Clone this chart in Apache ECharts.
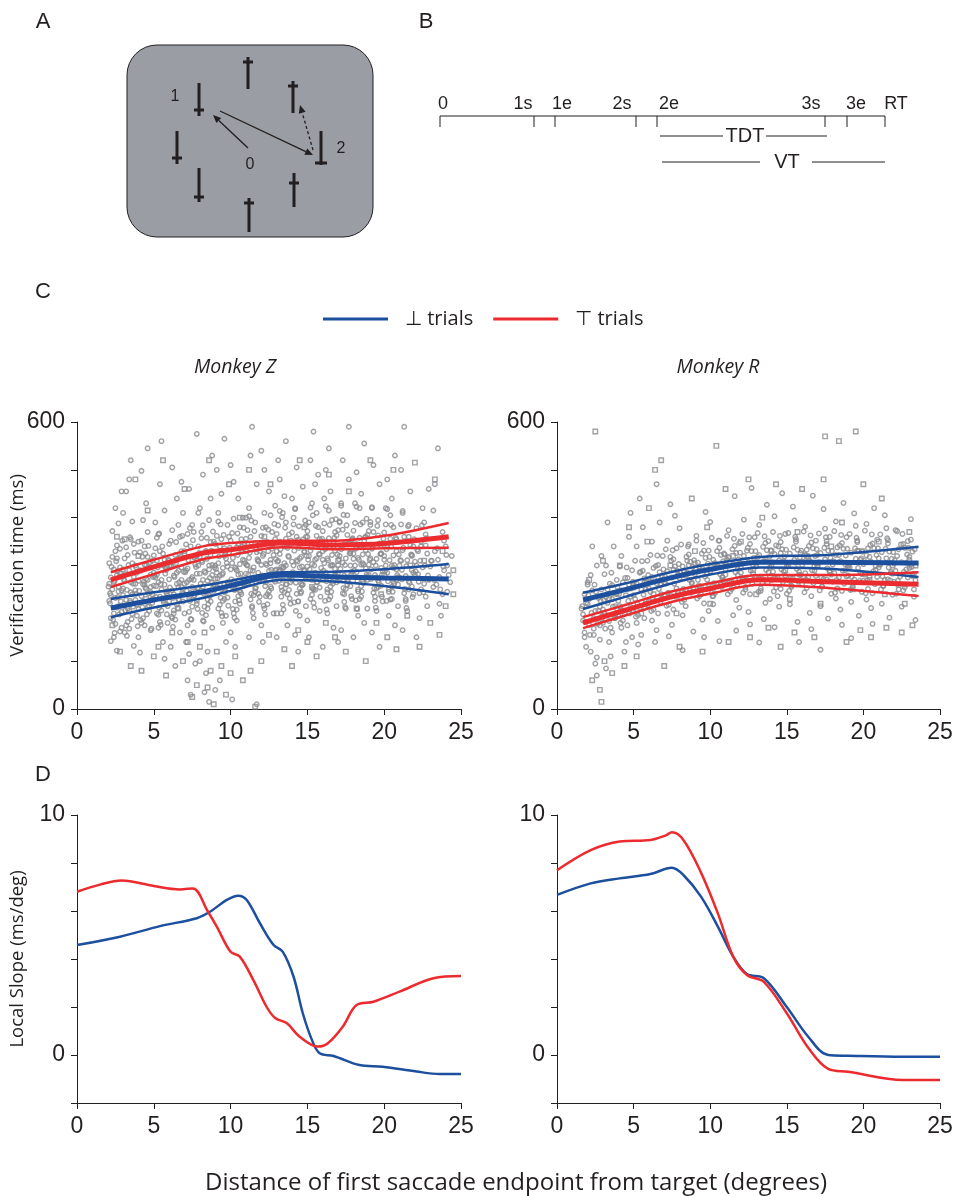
<!DOCTYPE html>
<html>
<head>
<meta charset="utf-8">
<script src="https://cdn.jsdelivr.net/npm/echarts@6/dist/echarts.min.js"></script>
<style>html,body{margin:0;padding:0;background:#fff}#main{width:957px;height:1196px}</style>
</head>
<body>
<div id="main"></div>
<script>
// ---- data ----
var BLUE = '#1d4f9f', RED = '#ec2b2f', INK = '#231f20', DOT = '#8a8b8e';

// panel C, Monkey Z scatter (circles / squares)
var zCircles = [
 [2.1,305],[2.3,250],[2.2,190],[2.5,420],[2.4,150],[2.6,280],[2.8,335],[2.7,215],[2.9,170],[2.3,372],[2.6,122],[2.1,262],[2.9,455],[2.5,232],[2.8,296],[2.4,200],[2.7,388],[2.2,142],[2.9,248],[2.6,315],
 [3.1,268],[3.3,210],[3.5,355],[3.2,175],[3.8,300],[3.6,240],[3.4,480],[3.9,195],[3.0,410],[3.7,132],[3.3,322],[3.5,265],[3.8,228],[3.1,160],[3.6,392],[3.9,285],[3.2,455],[3.4,205],[3.7,345],[3.0,238],[3.5,520],
 [4.1,290],[4.3,225],[4.6,370],[4.2,180],[4.8,255],[4.5,430],[4.9,310],[4.0,150],[4.7,205],[4.4,340],[4.6,270],[4.2,498],[4.8,165],[4.3,395],[4.9,240],[4.1,118],[4.5,300],[4.7,215],[4.0,350],[4.4,260],[4.6,545],
 [5.1,275],[5.4,330],[5.2,200],[5.7,415],[5.5,250],[5.9,180],[5.3,365],[5.8,295],[5.6,140],[5.0,230],[5.4,470],[5.7,260],[5.2,310],[5.9,215],[5.1,390],[5.6,325],[5.3,170],[5.8,245],[5.5,560],[5.0,285],[5.7,105],
 [6.1,300],[6.3,240],[6.6,385],[6.2,190],[6.8,270],[6.5,440],[6.9,225],[6.0,345],[6.7,160],[6.4,310],[6.6,255],[6.2,505],[6.8,330],[6.3,200],[6.9,410],[6.1,130],[6.5,285],[6.7,360],[6.0,225],[6.4,90],[6.8,475],
 [7.1,290],[7.3,230],[7.6,370],[7.2,175],[7.8,320],[7.5,255],[7.9,410],[7.0,200],[7.7,95],[7.4,340],[7.6,270],[7.2,60],[7.8,220],[7.3,460],[7.9,300],[7.1,140],[7.5,385],[7.7,245],[7.0,330],[7.4,30],[7.8,575],[7.6,160],[7.3,115],
 [8.1,310],[8.3,245],[8.6,395],[8.2,185],[8.8,280],[8.5,120],[8.9,350],[8.0,420],[8.7,225],[8.4,75],[8.6,300],[8.2,490],[8.8,170],[8.3,35],[8.9,260],[8.1,370],[8.5,210],[8.7,440],[8.0,100],[8.4,330],[8.6,15],[8.2,270],[8.8,530],
 [9.1,285],[9.3,340],[9.6,230],[9.2,410],[9.8,265],[9.5,180],[9.9,360],[9.0,300],[9.7,140],[9.4,450],[9.6,320],[9.2,210],[9.8,385],[9.3,60],[9.9,250],[9.1,500],[9.5,295],[9.7,195],[9.0,40],[9.4,355],[9.6,565],
 [10.1,305],[10.3,250],[10.6,380],[10.2,200],[10.8,330],[10.5,440],[10.9,270],[10.0,160],[10.7,355],[10.4,290],[10.6,220],[10.2,475],[10.8,400],[10.3,130],[10.9,310],[10.1,20],[10.5,345],[10.7,240],[10.0,510],[10.4,185],
 [11.1,300],[11.3,360],[11.6,245],[11.2,420],[11.8,285],[11.5,190],[11.9,330],[11.0,260],[11.7,470],[11.4,215],[11.6,390],[11.2,150],[11.8,310],[11.3,530],[11.9,235],[11.1,345],[11.5,275],[11.7,10],[11.0,400],[11.4,590],
 [12.1,320],[12.3,265],[12.6,405],[12.2,210],[12.8,345],[12.5,455],[12.9,290],[12.0,175],[12.7,370],[12.4,240],[12.6,305],[12.2,500],[12.8,200],[12.3,380],[12.9,425],[12.1,140],[12.5,280],[12.7,335],[12.0,540],
 [13.1,310],[13.3,255],[13.6,390],[13.2,350],[13.8,280],[13.5,445],[13.9,220],[13.0,330],[13.7,175],[13.4,410],[13.6,300],[13.2,480],[13.8,365],[13.3,200],[13.9,265],[13.1,520],[13.5,340],[13.7,240],[13.0,150],[13.4,295],[13.6,560],
 [14.1,300],[14.3,360],[14.6,245],[14.2,420],[14.8,330],[14.5,195],[14.9,385],[14.0,270],[14.7,465],[14.4,225],[14.6,350],[14.2,155],[14.8,290],[14.3,505],[14.9,215],[14.1,400],[14.5,315],[14.7,260],[14.0,440],[14.4,120],
 [15.1,320],[15.3,270],[15.6,410],[15.2,230],[15.8,355],[15.5,470],[15.9,295],[15.0,185],[15.7,380],[15.4,250],[15.6,315],[15.2,520],[15.8,205],[15.3,430],[15.9,340],[15.1,150],[15.5,285],[15.7,490],[15.0,360],[15.4,580],
 [16.1,305],[16.3,250],[16.6,395],[16.2,350],[16.8,280],[16.5,455],[16.9,215],[16.0,330],[16.7,170],[16.4,415],[16.6,300],[16.2,500],[16.8,370],[16.3,200],[16.9,265],[16.1,440],[16.5,235],[16.7,340],[16.0,130],[16.4,545],
 [17.1,320],[17.3,375],[17.6,260],[17.2,430],[17.8,300],[17.5,210],[17.9,355],[17.0,285],[17.7,480],[17.4,240],[17.6,405],[17.2,165],[17.8,330],[17.3,520],[17.9,230],[17.1,390],[17.5,275],[17.7,590],[17.0,140],[17.4,345],
 [18.1,300],[18.3,250],[18.6,390],[18.2,345],[18.8,275],[18.5,450],[18.9,210],[18.0,325],[18.7,180],[18.4,420],[18.6,305],[18.2,495],[18.8,360],[18.3,195],[18.9,270],[18.1,430],[18.5,235],[18.7,555],[18.0,150],
 [19.1,315],[19.3,370],[19.6,255],[19.2,420],[19.8,295],[19.5,205],[19.9,345],[19.0,280],[19.7,470],[19.4,235],[19.6,395],[19.2,160],[19.8,325],[19.3,510],[19.9,225],[19.1,385],[19.5,275],[19.7,130],
 [20.1,300],[20.3,250],[20.6,380],[20.2,340],[20.8,270],[20.5,440],[20.9,215],[20.0,320],[20.7,175],[20.4,405],[20.6,295],[20.2,480],[20.8,355],[20.3,195],[20.9,260],[20.1,420],[20.5,230],[20.7,530],
 [21.1,310],[21.3,360],[21.6,250],[21.2,410],[21.8,290],[21.5,205],[21.9,340],[21.0,275],[21.7,455],[21.4,230],[21.6,385],[21.2,165],[21.8,320],[21.3,590],[21.9,240],[21.1,500],
 [22.1,300],[22.4,250],[22.7,365],[22.2,330],[22.9,270],[22.5,420],[22.8,215],[22.3,190],[22.6,390],[22.0,280],[22.9,460],[22.4,340],[22.7,235],[22.1,150],
 [23.1,310],[23.4,260],[23.8,370],[23.2,415],[23.9,290],[23.6,220],[24.0,340],[23.3,470],[24.2,280],[23.7,195],[24.4,320],[23.5,545],[24.1,245]
];
// the dense core of the Monkey Z cloud
var zCore = [
 [2.2,238],[2.4,265],[2.6,212],[2.8,284],[2.3,318],[2.5,178],[2.7,246],[2.9,203],[2.1,226],[2.6,342],[2.4,292],[2.8,162],[2.2,275],[2.7,255],[2.5,330],
 [3.0,252],[3.2,228],[3.4,290],[3.6,199],[3.8,262],[3.1,315],[3.3,182],[3.5,244],[3.7,276],[3.9,218],[3.2,338],[3.6,305],[3.4,168],[3.8,248],[3.0,292],[3.5,223],
 [4.0,268],[4.2,236],[4.4,302],[4.6,214],[4.8,281],[4.1,328],[4.3,190],[4.5,251],[4.7,296],[4.9,222],[4.2,352],[4.6,318],[4.4,175],[4.8,244],[4.0,209],[4.5,272],[4.3,261],
 [5.0,258],[5.2,281],[5.4,235],[5.6,300],[5.8,219],[5.1,336],[5.3,197],[5.5,270],[5.7,312],[5.9,247],[5.2,358],[5.6,228],[5.4,182],[5.8,290],[5.0,321],[5.5,206],[5.3,265],
 [6.0,271],[6.2,248],[6.4,322],[6.6,229],[6.8,296],[6.1,352],[6.3,206],[6.5,262],[6.7,316],[6.9,241],[6.2,374],[6.6,289],[6.4,187],[6.8,255],[6.0,310],[6.5,218],[6.3,279],
 [7.0,262],[7.2,294],[7.4,243],[7.6,318],[7.8,226],[7.1,344],[7.3,203],[7.5,276],[7.7,302],[7.9,254],[7.2,366],[7.6,236],[7.4,188],[7.8,283],[7.0,325],[7.5,214],[7.3,270],[7.9,340],
 [8.0,283],[8.2,256],[8.4,330],[8.6,238],[8.8,301],[8.1,357],[8.3,214],[8.5,268],[8.7,322],[8.9,247],[8.2,384],[8.6,292],[8.4,196],[8.8,264],[8.0,318],[8.5,229],[8.3,288],[8.7,349],
 [9.0,272],[9.2,305],[9.4,251],[9.6,336],[9.8,233],[9.1,362],[9.3,218],[9.5,284],[9.7,315],[9.9,262],[9.2,392],[9.6,244],[9.4,201],[9.8,298],[9.0,345],[9.5,226],[9.3,279],[9.9,327],
 [10.0,292],[10.2,266],[10.4,338],[10.6,247],[10.8,312],[10.1,368],[10.3,225],[10.5,281],[10.7,329],[10.9,258],[10.2,398],[10.6,303],[10.4,208],[10.8,272],[10.0,352],[10.5,236],[10.3,296],[10.9,344],
 [11.0,283],[11.2,316],[11.4,262],[11.6,347],[11.8,241],[11.1,374],[11.3,229],[11.5,296],[11.7,328],[11.9,271],[11.2,403],[11.6,252],[11.4,212],[11.8,309],[11.0,356],[11.5,238],[11.3,290],[11.9,337],
 [12.0,301],[12.2,274],[12.4,349],[12.6,256],[12.8,322],[12.1,379],[12.3,236],[12.5,289],[12.7,341],[12.9,266],[12.2,410],[12.6,312],[12.4,219],[12.8,282],[12.0,362],[12.5,246],[12.3,304],[12.9,355],
 [13.0,292],[13.2,324],[13.4,270],[13.6,356],[13.8,249],[13.1,384],[13.3,235],[13.5,305],[13.7,337],[13.9,279],[13.2,414],[13.6,260],[13.4,218],[13.8,318],[13.0,366],[13.5,244],[13.3,297],[13.9,345],
 [14.0,308],[14.2,281],[14.4,354],[14.6,262],[14.8,328],[14.1,386],[14.3,241],[14.5,296],[14.7,347],[14.9,272],[14.2,418],[14.6,318],[14.4,225],[14.8,289],[14.0,369],[14.5,252],[14.3,311],[14.9,360],
 [15.0,298],[15.2,331],[15.4,276],[15.6,362],[15.8,254],[15.1,390],[15.3,239],[15.5,312],[15.7,343],[15.9,284],[15.2,421],[15.6,265],[15.4,222],[15.8,323],[15.0,372],[15.5,249],[15.3,303],[15.9,351],
 [16.0,312],[16.2,285],[16.4,357],[16.6,266],[16.8,331],[16.1,388],[16.3,244],[16.5,300],[16.7,350],[16.9,276],[16.2,424],[16.6,322],[16.4,229],[16.8,293],[16.0,372],[16.5,256],[16.3,315],[16.9,363],
 [17.0,301],[17.2,334],[17.4,279],[17.6,364],[17.8,257],[17.1,392],[17.3,242],[17.5,315],[17.7,345],[17.9,287],[17.2,425],[17.6,268],[17.4,224],[17.8,326],[17.0,374],[17.5,251],[17.3,306],[17.9,353],
 [18.0,314],[18.2,286],[18.4,358],[18.6,267],[18.8,332],[18.1,389],[18.3,246],[18.5,302],[18.7,351],[18.9,277],[18.2,423],[18.6,323],[18.4,230],[18.8,294],[18.0,373],[18.5,257],[18.3,316],[18.9,364],
 [19.0,302],[19.2,335],[19.4,280],[19.6,363],[19.8,258],[19.1,391],[19.3,243],[19.5,314],[19.7,346],[19.9,288],[19.2,422],[19.6,269],[19.4,226],[19.8,325],[19.0,372],[19.5,252],[19.3,307],
 [20.0,312],[20.2,285],[20.4,356],[20.6,266],[20.8,330],[20.1,386],[20.3,245],[20.5,300],[20.7,349],[20.9,276],[20.2,418],[20.6,321],[20.4,229],[20.8,292],[20.0,369],[20.5,256],
 [21.0,300],[21.2,332],[21.4,278],[21.6,360],[21.8,256],[21.1,386],[21.3,242],[21.5,311],[21.7,343],[21.9,285],[21.2,414],[21.6,267],[21.4,226],[21.8,322],
 [22.0,308],[22.2,282],[22.4,350],[22.6,262],[22.8,325],[22.1,378],[22.3,242],[22.5,296],[22.7,342],[22.9,272],
 [23.0,298],[23.3,330],[23.6,276],[23.9,352],[23.2,255],[23.5,312],[23.8,240],[24.1,300]
];
var zCore2 = [
 [2.05,256],[2.15,221],[2.25,297],[2.35,187],[2.45,268],[2.55,309],[2.65,234],[2.75,198],[2.85,277],[2.95,352],[2.15,242],[2.45,159],[2.65,288],[2.85,225],
 [3.05,271],[3.15,206],[3.25,249],[3.35,301],[3.45,226],[3.55,188],[3.65,262],[3.75,327],[3.85,241],[3.95,173],[3.15,282],[3.45,359],[3.65,214],[3.85,296],[3.25,153],
 [4.05,247],[4.15,289],[4.25,213],[4.35,266],[4.45,325],[4.55,198],[4.65,242],[4.75,307],[4.85,229],[4.95,276],[4.15,186],[4.45,254],[4.65,341],[4.85,168],[4.25,318],
 [5.05,279],[5.15,234],[5.25,296],[5.35,212],[5.45,261],[5.55,340],[5.65,223],[5.75,283],[5.85,198],[5.95,312],[5.15,257],[5.45,176],[5.65,302],[5.85,241],[5.35,367],
 [6.05,254],[6.15,298],[6.25,232],[6.35,276],[6.45,349],[6.55,211],[6.65,265],[6.75,319],[6.85,244],[6.95,287],[6.15,193],[6.45,305],[6.65,228],[6.85,362],[6.25,172],
 [7.05,286],[7.15,247],[7.25,311],[7.35,226],[7.45,272],[7.55,353],[7.65,238],[7.75,297],[7.85,209],[7.95,326],[7.15,265],[7.45,187],[7.65,317],[7.85,252],[7.35,378],
 [8.05,262],[8.15,307],[8.25,241],[8.35,285],[8.45,358],[8.55,219],[8.65,274],[8.75,331],[8.85,253],[8.95,296],[8.15,201],[8.45,314],[8.65,236],[8.85,371],[8.25,183],
 [9.05,293],[9.15,255],[9.25,319],[9.35,233],[9.45,281],[9.55,364],[9.65,246],[9.75,305],[9.85,216],[9.95,337],[9.15,273],[9.45,194],[9.65,326],[9.85,261],[9.35,386],
 [10.05,271],[10.15,316],[10.25,249],[10.35,293],[10.45,367],[10.55,227],[10.65,283],[10.75,340],[10.85,262],[10.95,305],[10.15,209],[10.45,322],[10.65,244],[10.85,379],[10.25,191],
 [11.05,301],[11.15,262],[11.25,327],[11.35,241],[11.45,289],[11.55,372],[11.65,254],[11.75,313],[11.85,224],[11.95,345],[11.15,281],[11.45,201],[11.65,334],[11.85,269],[11.35,394],
 [12.05,279],[12.15,324],[12.25,257],[12.35,301],[12.45,375],[12.55,235],[12.65,291],[12.75,348],[12.85,270],[12.95,313],[12.15,216],[12.45,330],[12.65,252],[12.85,387],[12.25,198],
 [13.05,308],[13.15,268],[13.25,334],[13.35,248],[13.45,296],[13.55,379],[13.65,261],[13.75,320],[13.85,231],[13.95,352],[13.15,288],[13.45,208],[13.65,341],[13.85,276],[13.35,401],
 [14.05,286],[14.15,331],[14.25,264],[14.35,308],[14.45,382],[14.55,242],[14.65,298],[14.75,355],[14.85,277],[14.95,320],[14.15,223],[14.45,337],[14.65,259],[14.85,394],[14.25,205],
 [15.05,312],[15.15,272],[15.25,338],[15.35,252],[15.45,300],[15.55,383],[15.65,265],[15.75,324],[15.85,235],[15.95,356],[15.15,292],[15.45,212],[15.65,345],[15.85,280],[15.35,405],
 [16.05,289],[16.15,334],[16.25,267],[16.35,311],[16.45,385],[16.55,245],[16.65,301],[16.75,358],[16.85,280],[16.95,323],[16.15,226],[16.45,340],[16.65,262],[16.85,397],[16.25,208],
 [17.05,313],[17.15,273],[17.25,339],[17.35,253],[17.45,301],[17.55,384],[17.65,266],[17.75,325],[17.85,236],[17.95,357],[17.15,293],[17.45,213],[17.65,346],[17.85,281],[17.35,406],
 [18.05,290],[18.15,335],[18.25,268],[18.35,312],[18.45,386],[18.55,246],[18.65,302],[18.75,359],[18.85,281],[18.95,324],[18.15,227],[18.45,341],[18.65,263],[18.85,398],[18.25,209],
 [19.05,312],[19.15,272],[19.25,338],[19.35,252],[19.45,300],[19.55,383],[19.65,265],[19.75,324],[19.85,235],[19.95,356],[19.15,292],[19.45,212],[19.65,345],[19.85,280],
 [20.05,289],[20.15,334],[20.25,267],[20.35,311],[20.45,385],[20.55,245],[20.65,301],[20.75,358],[20.85,280],[20.95,323],[20.15,226],[20.45,340],[20.65,262],
 [21.05,311],[21.15,271],[21.25,337],[21.35,251],[21.45,299],[21.55,382],[21.65,264],[21.75,323],[21.85,234],[21.95,355],[21.15,291],[21.45,211],
 [22.05,288],[22.15,333],[22.25,266],[22.35,310],[22.45,384],[22.55,244],[22.65,300],[22.75,357],[22.85,279],
 [23.05,310],[23.25,270],[23.45,336],[23.65,250],[23.85,298],[24.05,322],[24.3,265]
];
var zSquares = [
 [2.3,175],[2.8,120],[3.1,355],[3.5,90],[4.2,80],[4.6,415],[5.0,110],[5.3,130],[5.8,70],[6.2,160],[6.6,210],[6.9,100],[7.2,140],[7.5,25],[7.8,50],
 [8.0,130],[8.3,160],[8.5,45],[8.7,80],[8.9,10],[9.1,120],[9.4,90],[9.7,30],[10.0,75],[10.3,110],[10.8,60],[11.3,80],[11.6,5],[12.0,100],[12.5,155],
 [13.0,200],[13.5,125],[14.0,90],[14.4,165],[15.0,140],[15.6,110],[16.2,180],[16.8,150],[17.5,120],[18.2,210],[18.8,100],[19.5,180],[20.2,150],[20.8,125],
 [21.5,195],[22.3,130],[23.0,180],[23.6,155],[24.0,215],[24.5,240],[3.8,480],[5.6,520],[7.0,460],[8.6,520],[9.9,470],[11.2,500],[12.6,470],[14.5,520],
 [16.4,490],[17.7,455],[19.1,520],[20.6,500],[22.0,515],[23.3,480],[4.5,230],[6.0,300],[9.3,260],[11.0,330],[13.2,290],[15.3,255],[17.0,310],[18.5,340],
 [20.0,280],[21.7,300],[23.8,330],[24.5,290],[2.6,360],[4.0,320],[10.6,400],[12.2,360],[14.8,380],[16.0,270],[19.8,240],[22.6,310]
];

// panel C, Monkey R scatter
var rCircles = [
 [1.6,210],[1.8,160],[2.0,260],[2.2,120],[2.4,190],[2.6,300],[2.8,145],[2.1,230],[2.5,95],[2.9,250],[1.7,185],[2.3,340],[2.7,205],[1.9,130],[2.6,70],[2.2,280],[2.8,175],[2.0,220],[2.4,155],[2.9,320],[1.8,240],
 [3.1,200],[3.3,250],[3.6,160],[3.2,300],[3.8,215],[3.5,110],[3.9,270],[3.0,180],[3.7,340],[3.4,140],[3.6,230],[3.2,85],[3.8,190],[3.3,390],[3.9,240],
 [4.1,215],[4.3,265],[4.6,175],[4.2,320],[4.8,235],[4.5,140],[4.9,290],[4.0,195],[4.7,360],[4.4,120],[4.6,250],[4.2,170],[4.8,410],[4.3,205],[4.9,150],
 [5.1,230],[5.4,285],[5.7,190],[5.2,340],[5.8,250],[5.5,155],[5.9,310],[5.0,205],[5.6,380],[5.3,135],[5.7,265],[5.2,180],[5.8,220],[5.4,440],
 [6.1,245],[6.3,295],[6.6,200],[6.2,350],[6.8,260],[6.5,165],[6.9,320],[6.0,225],[6.7,390],[6.4,140],[6.6,275],[6.2,185],[6.8,230],[6.5,470],
 [7.1,262],[7.4,318],[7.6,208],[7.2,352],[7.9,281],[7.5,176],[7.8,336],[7.0,238],[7.7,404],[7.3,152],[7.6,292],[7.2,199],[7.9,246],[7.4,428],
 [8.1,231],[8.3,287],[8.6,344],[8.2,196],[8.8,265],[8.5,310],[8.9,162],[8.0,378],[8.7,248],[8.4,215],[8.6,300],[8.2,123],
 [9.0,305],[9.3,254],[9.6,221],[9.1,362],[9.8,283],[9.5,187],[9.9,331],[9.2,270],[9.7,412],[9.4,240],[9.6,150],[9.3,298],[9.9,205],
 [10.1,243],[10.4,297],[10.6,352],[10.2,219],[10.8,276],[10.5,184],[10.9,325],[10.0,391],[10.7,260],[10.3,305],[10.6,142],[10.2,236],
 [11.1,312],[11.3,266],[11.7,228],[11.2,374],[11.8,293],[11.5,196],[11.9,347],[11.0,281],[11.6,445],[11.4,251],[11.7,164],[11.2,318],[11.9,212],
 [12.1,274],[12.4,331],[12.6,240],[12.2,396],[12.8,301],[12.5,203],[12.9,359],[12.0,285],[12.7,462],[12.3,255],[12.6,177],
 [13.1,318],[13.4,263],[13.6,222],[13.2,385],[13.9,296],[13.5,188],[13.8,351],[13.0,276],[13.7,427],[13.3,247],[13.6,309],[13.2,139],[13.9,230],
 [14.1,287],[14.3,342],[14.6,251],[14.2,403],[14.8,309],[14.5,214],[14.9,366],[14.0,270],[14.7,451],[14.4,236],[14.6,326],[14.2,171],
 [15.1,300],[15.3,258],[15.6,355],[15.2,219],[15.8,281],[15.5,394],[15.9,326],[15.0,241],[15.7,182],[15.4,423],[15.6,306],[15.2,268],[15.8,140],
 [16.1,276],[16.3,333],[16.6,236],[16.2,381],[16.8,298],[16.5,201],[16.9,352],[16.0,262],[16.7,446],[16.4,315],[16.6,167],[16.2,284],
 [17.1,307],[17.3,256],[17.6,345],[17.2,215],[17.8,289],[17.5,377],[17.9,241],[17.0,322],[17.7,189],[17.4,418],[17.6,271],[17.2,124],[17.8,360],
 [18.1,284],[18.3,338],[18.6,247],[18.2,392],[18.8,303],[18.5,208],[18.9,359],[18.0,266],[18.7,431],[18.4,322],[18.6,176],[18.2,231],
 [19.1,296],[19.3,262],[19.6,349],[19.2,224],[19.8,312],[19.5,383],[19.9,245],[19.0,279],[19.7,195],[19.4,409],[19.6,331],[19.2,148],
 [20.1,281],[20.3,336],[20.6,242],[20.2,387],[20.8,299],[20.5,211],[20.9,354],[20.0,268],[20.7,420],[20.4,318],[20.6,178],[20.2,229],
 [21.1,302],[21.3,257],[21.6,346],[21.2,220],[21.8,287],[21.5,378],[21.9,239],[21.0,315],[21.7,191],[21.4,405],[21.6,271],
 [22.1,289],[22.3,334],[22.6,248],[22.2,372],[22.8,306],[22.5,214],[22.9,351],[22.0,266],[23.1,397],[23.3,235],[23.0,318],[23.4,186],[23.2,280],[22.7,254]
];
// the dense core of the Monkey R cloud
var rCore = [
 [1.7,198],[1.9,222],[2.1,176],[2.3,248],[2.5,205],[2.7,232],[2.9,188],[2.0,265],[2.4,168],[2.8,214],[1.8,150],[2.6,108],
 [3.0,208],[3.2,234],[3.4,184],[3.6,259],[3.8,197],[3.1,282],[3.3,222],[3.5,170],[3.7,242],[3.9,210],
 [4.0,226],[4.2,248],[4.4,199],[4.6,274],[4.8,213],[4.1,298],[4.3,185],[4.5,238],[4.7,260],[4.9,204],
 [5.0,238],[5.2,262],[5.4,212],[5.6,289],[5.8,226],[5.1,310],[5.3,196],[5.5,250],[5.7,273],[5.9,217],
 [6.0,252],[6.2,276],[6.4,226],[6.6,301],[6.8,240],[6.1,322],[6.3,208],[6.5,263],[6.7,286],[6.9,231],
 [7.0,264],[7.2,288],[7.4,238],[7.6,313],[7.8,252],[7.1,334],[7.3,218],[7.5,275],[7.7,298],[7.9,243],
 [8.0,274],[8.2,298],[8.4,248],[8.6,323],[8.8,262],[8.1,344],[8.3,228],[8.5,285],[8.7,308],[8.9,253],
 [9.0,282],[9.2,306],[9.4,256],[9.6,331],[9.8,270],[9.1,352],[9.3,236],[9.5,293],[9.7,316],[9.9,261],
 [10.0,288],[10.2,312],[10.4,262],[10.6,337],[10.8,276],[10.1,358],[10.3,242],[10.5,299],[10.7,322],[10.9,267],
 [11.0,292],[11.2,316],[11.4,266],[11.6,341],[11.8,280],[11.1,362],[11.3,246],[11.5,303],[11.7,326],[11.9,271],
 [12.0,296],[12.2,320],[12.4,270],[12.6,345],[12.8,284],[12.1,366],[12.3,250],[12.5,307],[12.7,330],[12.9,275],
 [13.0,298],[13.2,322],[13.4,272],[13.6,347],[13.8,286],[13.1,368],[13.3,252],[13.5,309],[13.7,332],[13.9,277],
 [14.0,300],[14.2,324],[14.4,274],[14.6,349],[14.8,288],[14.1,370],[14.3,254],[14.5,311],[14.7,334],[14.9,279],
 [15.0,299],[15.2,325],[15.4,273],[15.6,350],[15.8,287],[15.1,368],[15.3,255],[15.5,312],[15.7,333],[15.9,280],
 [16.0,301],[16.2,323],[16.4,276],[16.6,348],[16.8,289],[16.1,371],[16.3,253],[16.5,310],[16.7,336],[16.9,278],
 [17.0,298],[17.2,326],[17.4,272],[17.6,351],[17.8,286],[17.1,367],[17.3,256],[17.5,313],[17.7,331],[17.9,281],
 [18.0,302],[18.2,322],[18.4,275],[18.6,347],[18.8,290],[18.1,372],[18.3,252],[18.5,309],[18.7,335],[18.9,277],
 [19.0,297],[19.2,327],[19.4,271],[19.6,352],[19.8,285],[19.1,366],[19.3,257],[19.5,314],[19.7,330],[19.9,282],
 [20.0,303],[20.2,321],[20.4,276],[20.6,346],[20.8,291],[20.1,373],[20.3,251],[20.5,308],[20.7,336],[20.9,276],
 [21.0,296],[21.2,328],[21.4,270],[21.6,353],[21.8,284],[21.1,365],[21.3,258],[21.5,315],[21.7,329],[21.9,283],
 [22.0,304],[22.2,320],[22.4,277],[22.6,345],[22.8,292],[22.1,374],[22.3,250],[22.5,307],[22.7,337],[22.9,275],
 [23.0,295],[23.2,329],[23.4,269],[23.1,354],[23.3,283],[23.0,312]
];
var rCore2 = [
 [1.65,215],[1.85,182],[2.05,238],[2.25,201],[2.45,260],[2.65,178],[2.85,226],[2.15,155],[2.55,245],[2.95,195],
 [3.05,228],[3.25,196],[3.45,262],[3.65,214],[3.85,241],[3.15,168],[3.55,285],[3.75,190],[3.95,255],
 [4.05,240],[4.25,207],[4.45,274],[4.65,226],[4.85,252],[4.15,180],[4.55,296],[4.75,200],[4.95,266],
 [5.05,254],[5.25,220],[5.45,287],[5.65,239],[5.85,266],[5.15,193],[5.55,309],[5.75,212],[5.95,280],
 [6.05,266],[6.25,232],[6.45,299],[6.65,251],[6.85,278],[6.15,205],[6.55,321],[6.75,224],[6.95,292],
 [7.05,277],[7.25,243],[7.45,310],[7.65,262],[7.85,289],[7.15,216],[7.55,332],[7.75,235],[7.95,303],
 [8.05,285],[8.25,251],[8.45,318],[8.65,270],[8.85,297],[8.15,224],[8.55,340],[8.75,243],[8.95,311],
 [9.05,292],[9.25,258],[9.45,325],[9.65,277],[9.85,304],[9.15,231],[9.55,347],[9.75,250],[9.95,318],
 [10.05,297],[10.25,263],[10.45,330],[10.65,282],[10.85,309],[10.15,236],[10.55,352],[10.75,255],[10.95,323],
 [11.05,301],[11.25,267],[11.45,334],[11.65,286],[11.85,313],[11.15,240],[11.55,356],[11.75,259],[11.95,327],
 [12.05,304],[12.25,270],[12.45,337],[12.65,289],[12.85,316],[12.15,243],[12.55,359],[12.75,262],[12.95,330],
 [13.05,306],[13.25,272],[13.45,339],[13.65,291],[13.85,318],[13.15,245],[13.55,361],[13.75,264],[13.95,332],
 [14.05,307],[14.25,273],[14.45,340],[14.65,292],[14.85,319],[14.15,246],[14.55,362],[14.75,265],[14.95,333],
 [15.05,305],[15.25,274],[15.45,338],[15.65,293],[15.85,317],[15.15,247],[15.55,360],[15.75,266],[15.95,331],
 [16.05,308],[16.25,271],[16.45,341],[16.65,290],[16.85,320],[16.15,244],[16.55,363],[16.75,263],[16.95,334],
 [17.05,304],[17.25,275],[17.45,337],[17.65,294],[17.85,316],[17.15,248],[17.55,359],[17.75,267],[17.95,330],
 [18.05,309],[18.25,270],[18.45,342],[18.65,289],[18.85,321],[18.15,243],[18.55,364],[18.75,262],[18.95,335],
 [19.05,303],[19.25,276],[19.45,336],[19.65,295],[19.85,315],[19.15,249],[19.55,358],[19.75,268],[19.95,329],
 [20.05,310],[20.25,269],[20.45,343],[20.65,288],[20.85,322],[20.15,242],[20.55,365],[20.75,261],[20.95,336],
 [21.05,302],[21.25,277],[21.45,335],[21.65,296],[21.85,314],[21.15,250],[21.55,357],[21.75,269],[21.95,328],
 [22.05,311],[22.25,268],[22.45,344],[22.65,287],[22.85,323],[22.15,241],[22.55,366],[22.75,260],[22.95,337],
 [23.05,301],[23.2,278],[23.35,334],[23.15,297],[23.3,250]
];
var rSquares = [
 [2.5,580],[2.8,40],[2.9,15],[2.3,60],[3.1,100],[3.6,75],[4.4,90],[5.2,110],[6.4,500],[6.8,520],[7.0,90],[8.0,130],[9.5,120],[10.4,550],[11.2,140],
 [12.6,150],[13.8,170],[14.6,130],[15.5,160],[16.8,150],[17.5,570],[18.4,560],[19.5,580],[18.9,140],[19.8,165],[20.5,150],[21.5,170],[22.5,160],[23.2,175],
 [2.1,270],[3.4,230],[4.1,300],[5.0,260],[5.9,350],[6.3,240],[7.4,300],[8.4,280],[9.0,330],[9.8,380],[10.8,270],[11.5,320],[12.0,350],[12.8,290],
 [13.4,400],[14.0,330],[14.9,290],[15.7,370],[16.3,320],[17.0,300],[17.9,340],[18.6,390],[19.0,300],[19.9,330],[20.4,270],[21.0,350],[21.9,300],
 [22.3,260],[23.0,370],[23.4,300],[4.7,380],[6.0,420],[8.8,440],[11.0,460],[12.5,480],[14.3,470],[16.0,460],[17.4,480],[20.0,470],[21.2,440],
 [3.0,310],[5.5,200],[7.8,200],[10.0,220],[13.0,240],[15.2,230],[17.2,220],[19.3,250],[21.4,240],[22.7,220]
];

// panel C fitted curves (centre and band edges)
var zFitX = [2.2, 5, 8.2, 10, 13.4, 16.9, 20, 24.2];
var zRedMid = [270, 297, 326, 333, 347, 343, 346, 360];
var zRedHi  = [286, 312, 340, 347, 352, 352, 362, 389];
var zRedLo  = [255, 282, 313, 322, 338, 334, 336, 337];
var zBlueMid = [211, 228, 245, 258, 280, 276, 274, 272];
var zBlueHi  = [230, 244, 258, 268, 286, 287, 292, 303];
var zBlueLo  = [192, 212, 232, 247, 270, 266, 257, 240];

var rFitX = [1.7, 4.5, 7.4, 10, 13.3, 17.7, 23.6];
var rBlueMid = [228, 250, 274, 292, 307, 307, 305];
var rBlueHi  = [243, 263, 286, 303, 318, 322, 339];
var rBlueLo  = [209, 235, 262, 281, 296, 293, 276];
var rRedMid = [180, 207, 234, 252, 270, 266, 261];
var rRedHi  = [192, 218, 245, 263, 280, 280, 286];
var rRedLo  = [169, 196, 223, 241, 260, 253, 236];

// panel D local slopes
var dzRedX = [0, 1.5, 2.9, 5, 6.7, 7.55, 8.5, 9.1, 10, 10.6, 11.5, 12.35, 12.9, 13.65, 14.5, 15.7, 16.35, 17.3, 18.2, 19.3, 21, 23.2, 25];
var dzRed  = [6.8, 7.1, 7.27, 7.04, 6.9, 6.94, 6.0, 5.35, 4.3, 4.1, 3.1, 2.0, 1.54, 1.33, 0.76, 0.35, 0.5, 1.18, 2.08, 2.22, 2.64, 3.2, 3.29];
var dzBlueX = [0, 2.8, 5.4, 7.8, 8.66, 9.75, 10.5, 11.05, 11.9, 12.8, 13.4, 14.1, 14.7, 15.3, 15.8, 16.7, 18.4, 19.9, 22.1, 23.6, 25];
var dzBlue  = [4.58, 4.93, 5.37, 5.7, 5.97, 6.46, 6.64, 6.46, 5.5, 4.58, 4.3, 3.26, 1.74, 0.62, 0.07, -0.04, -0.42, -0.49, -0.69, -0.79, -0.79];
var drRedX = [0, 2.2, 4.1, 6.1, 7.1, 7.5, 8.25, 9.4, 10.5, 11.5, 12.4, 13.5, 15, 16.4, 17.7, 19, 22.6, 25];
var drRed  = [7.7, 8.54, 8.9, 8.96, 9.15, 9.28, 8.96, 7.6, 5.9, 4.1, 3.33, 3.05, 1.74, 0.3, -0.58, -0.7, -1.04, -1.04];
var drBlueX = [0, 2.2, 4.1, 6.1, 7.5, 8.25, 9.4, 10.5, 11.5, 12.4, 13.5, 15, 16.4, 17.7, 19, 22.6, 25];
var drBlue  = [6.67, 7.15, 7.36, 7.54, 7.8, 7.5, 6.6, 5.35, 4.1, 3.37, 3.2, 2.0, 0.76, 0, -0.03, -0.07, -0.07];

var timeTicks = ['0', '1s', '1e', '2s', '2e', '3s', '3e', 'RT'];

// ---- helpers ----
function pairs(xs, ys) { return xs.map(function (x, i) { return [x, ys[i]]; }); }

var myChart = echarts.init(document.getElementById('main'));

var SANS = 'Open Sans';
var HELV = 'Liberation Sans';

function xAx(g) {
    return {
        gridIndex: g, type: 'value', min: 0, max: 25, interval: 5,
        axisLine: { show: true, onZero: false, lineStyle: { color: INK, width: 1 } },
        axisTick: { show: true, length: 6, lineStyle: { color: INK } },
        splitLine: { show: false },
        axisLabel: { color: INK, fontSize: 23, fontFamily: HELV, margin: 12 }
    };
}
function yAx(g, mn, mx, step, name) {
    return {
        gridIndex: g, type: 'value', min: mn, max: mx, interval: step,
        name: name, nameLocation: 'middle', nameGap: 50, nameRotate: 90, nameMoveOverlap: false,
        nameTextStyle: { color: INK, fontSize: 18.5, fontFamily: SANS },
        axisLine: { show: true, onZero: false, lineStyle: { color: INK, width: 1 } },
        axisTick: { show: true, length: 6, lineStyle: { color: INK } },
        splitLine: { show: false },
        axisLabel: {
            color: INK, fontSize: 23, fontFamily: HELV, margin: 12,
            formatter: function (v) { return (v === 0 || v === mx) ? String(v) : ''; }
        }
    };
}

function dots(name, data, g, sym) {
    return {
        name: name, type: 'scatter', xAxisIndex: g, yAxisIndex: g, data: data,
        symbol: sym, symbolSize: 4.5, silent: true,
        itemStyle: { color: 'rgba(255,255,255,0)', borderColor: DOT, borderWidth: 1.4 },
        z: 1
    };
}
function fit(name, color, xs, ys, g, w) {
    return {
        name: name, type: 'line', xAxisIndex: g, yAxisIndex: g, data: pairs(xs, ys),
        color: color, showSymbol: false, smooth: 0.35, silent: true,
        lineStyle: { color: color, width: w }, z: 3
    };
}

// panel A / B drawing (schematic)
var stems = [
    // x, top, bottom, barY
    [248, 57, 89, 62], [293, 81, 113, 86], [199, 83, 116, 110], [177, 131, 164, 158],
    [199, 168, 202, 197], [249, 198, 232, 203], [294, 173, 207, 183], [321, 131, 165, 163]
];
var gfx = [];
function txt(x, y, s, size, font, extra) {
    var st = { x: x, y: y, text: s, fill: INK, font: (extra || '') + ' ' + size + 'px "' + font + '"', textAlign: 'center', textVerticalAlign: 'middle' };
    gfx.push({ type: 'text', style: st, silent: true });
}
function seg(x1, y1, x2, y2, w, dash) {
    gfx.push({ type: 'line', shape: { x1: x1, y1: y1, x2: x2, y2: y2 }, style: { stroke: INK, lineWidth: w, lineDash: dash || null }, silent: true });
}
// letters
txt(43, 22, 'A', 22, HELV); txt(426, 22, 'B', 22, HELV); txt(43, 292, 'C', 22, HELV); txt(43, 775, 'D', 22, HELV);
// A: display
gfx.push({ type: 'rect', shape: { x: 127, y: 45, width: 246, height: 192, r: 30 }, style: { fill: '#9a9da4', stroke: INK, lineWidth: 1 }, silent: true });
stems.forEach(function (s, i) {
    var big = (i === 7);
    seg(s[0], s[1], s[0], s[2], 3);
    seg(s[0] - (big ? 6 : 5), s[3], s[0] + (big ? 6 : 5), s[3], 3);
});
txt(175, 97, '1', 16, HELV); txt(250, 165, '0', 16, HELV); txt(341, 149, '2', 16, HELV);
seg(248, 148, 218.8, 120.5, 1.3);
gfx.push({ type: 'polygon', shape: { points: [[213, 115], [221.2, 118], [216.4, 123.1]] }, style: { fill: INK }, silent: true });
seg(220, 111, 305.8, 151.6, 1.3);
gfx.push({ type: 'polygon', shape: { points: [[313, 155], [304.3, 154.8], [307.3, 148.4]] }, style: { fill: INK }, silent: true });
seg(313, 150, 302.2, 112.7, 1.3, [3, 2.5]);
gfx.push({ type: 'polygon', shape: { points: [[300, 105], [305.6, 111.7], [298.8, 113.7]] }, style: { fill: INK }, silent: true });
// B: timeline
var tickX = [440, 534, 555, 636, 657, 825, 847, 885];
var labX = [443, 523, 562, 622, 669, 811, 856, 896];
seg(440, 116, 885, 116, 1);
tickX.forEach(function (x, i) {
    seg(x, 116, x, 127, 1);
    txt(labX[i], 104, timeTicks[i], 18, HELV);
});
seg(660, 136, 723, 136, 1); seg(766, 136, 827, 136, 1); txt(745, 136, 'TDT', 20, HELV);
seg(662, 162, 760, 162, 1); seg(812, 162, 885, 162, 1); txt(787, 162, 'VT', 20, HELV);
// titles
txt(235, 367, 'Monkey Z', 19.5, SANS, 'italic'); txt(718, 367, 'Monkey R', 19.5, SANS, 'italic');
txt(516, 1183, 'Distance of first saccade endpoint from target (degrees)', 24, SANS);

var option = {
    backgroundColor: '#fff',
    animation: false,
    legend: {
        left: 318, top: 304, itemWidth: 65, itemHeight: 3, itemGap: 20, icon: 'rect',
        selectedMode: false, data: ['⊥ trials', '⊤ trials'],
        textStyle: { color: INK, fontSize: 20, fontFamily: SANS, padding: [0, 0, 0, 12] }
    },
    grid: [
        { left: 77, top: 422, width: 384, height: 287 },
        { left: 557, top: 422, width: 383, height: 287 },
        { left: 77, top: 815, width: 384, height: 288 },
        { left: 557, top: 815, width: 383, height: 288 }
    ],
    xAxis: [xAx(0), xAx(1), xAx(2), xAx(3)],
    yAxis: [
        yAx(0, 0, 600, 100, 'Verification time (ms)'),
        yAx(1, 0, 600, 100, ''),
        yAx(2, -2, 10, 2, 'Local Slope (ms/deg)'),
        yAx(3, -2, 10, 2, '')
    ],
    graphic: gfx,
    series: [
        dots('z-c', zCircles.concat(zCore, zCore2), 0, 'circle'), dots('z-s', zSquares, 0, 'rect'),
        dots('r-c', rCircles.concat(rCore, rCore2), 1, 'circle'), dots('r-s', rSquares, 1, 'rect'),
        fit('⊤ trials', RED, zFitX, zRedHi, 0, 2.5), fit('⊤ trials', RED, zFitX, zRedLo, 0, 2.5), fit('⊤ trials', RED, zFitX, zRedMid, 0, 5),
        fit('⊥ trials', BLUE, zFitX, zBlueHi, 0, 2.5), fit('⊥ trials', BLUE, zFitX, zBlueLo, 0, 2.5), fit('⊥ trials', BLUE, zFitX, zBlueMid, 0, 5),
        fit('⊥ trials', BLUE, rFitX, rBlueHi, 1, 2.5), fit('⊥ trials', BLUE, rFitX, rBlueLo, 1, 2.5), fit('⊥ trials', BLUE, rFitX, rBlueMid, 1, 5),
        fit('⊤ trials', RED, rFitX, rRedHi, 1, 2.5), fit('⊤ trials', RED, rFitX, rRedLo, 1, 2.5), fit('⊤ trials', RED, rFitX, rRedMid, 1, 5),
        fit('⊥ trials', BLUE, dzBlueX, dzBlue, 2, 2.5), fit('⊤ trials', RED, dzRedX, dzRed, 2, 2.5),
        fit('⊥ trials', BLUE, drBlueX, drBlue, 3, 2.5), fit('⊤ trials', RED, drRedX, drRed, 3, 2.5)
    ]
};
myChart.setOption(option);
</script>
</body>
</html>
